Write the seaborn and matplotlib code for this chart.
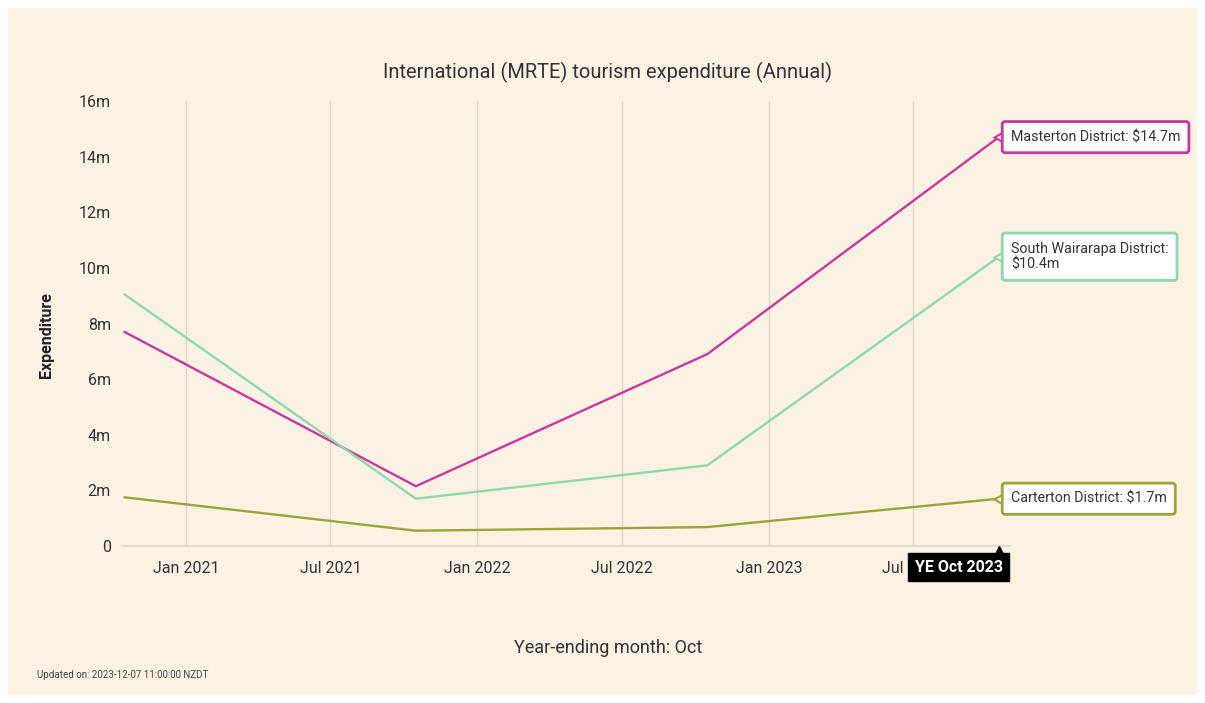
import numpy as np
import pandas as pd
import seaborn as sns
import matplotlib.pyplot as plt
import matplotlib.dates as mdates
import matplotlib.transforms as mtransforms
from matplotlib.ticker import FuncFormatter

# data (year ending October, $ millions)
periods = ["2020-10-16", "2021-10-16", "2022-10-16", "2023-10-16"]
masterton = [7.7, 2.15, 6.9, 14.7]
south_wairarapa = [9.05, 1.7, 2.9, 10.4]
carterton = [1.75, 0.55, 0.68, 1.7]
districts = ["Masterton District", "South Wairarapa District", "Carterton District"]
colours = ["#c8379e", "#8ed9a9", "#9aa63a"]
end_labels = ["Masterton District: $14.7m", "South Wairarapa District:\n$10.4m",
              "Carterton District: $1.7m"]
y_ticks = [0, 2, 4, 6, 8, 10, 12, 14, 16]
x_ticks = ["2021-01-01", "2021-07-01", "2022-01-01", "2022-07-01", "2023-01-01", "2023-07-01"]

df = pd.DataFrame({
    "period": pd.to_datetime(periods * 3),
    "value": masterton + south_wairarapa + carterton,
    "district": np.repeat(districts, len(periods)),
})

bg = "#fbf2e4"
sns.set_theme(style="white")
plt.rcParams["font.family"] = ["Roboto", "DejaVu Sans"]

fig = plt.figure(figsize=(12.05, 7.03), dpi=100)
fig.patch.set_facecolor("white")
# beige panel inside the white frame
fig.add_artist(plt.Rectangle((8 / 1205, 8 / 703), 1189 / 1205, 687 / 703,
                             transform=fig.transFigure, facecolor=bg, edgecolor="none", zorder=-10))

ax = fig.add_axes([122 / 1205, 1 - 546 / 703, 888 / 1205, 445 / 703])
ax.set_facecolor(bg)

pal = dict(zip(districts, colours))
sns.lineplot(data=df, x="period", y="value", hue="district", palette=pal,
             linewidth=1.7, legend=False, ax=ax)

ax.set_xlim(pd.Timestamp("2020-10-13"), pd.Timestamp("2023-10-30"))
ax.set_ylim(0, 16)
ax.set_yticks(y_ticks)
ax.yaxis.set_major_formatter(FuncFormatter(lambda v, p: "0" if v == 0 else f"{v:.0f}m"))
ax.set_xticks(pd.to_datetime(x_ticks))
ax.xaxis.set_major_formatter(mdates.DateFormatter("%b %Y"))
ax.tick_params(axis="both", length=0, labelsize=11.5, labelcolor="#333333")
ax.tick_params(axis="x", pad=11)
ax.tick_params(axis="y", pad=8)
ax.grid(axis="x", color="#dcd8cf", linewidth=1)
ax.grid(axis="y", visible=False)
for s in ["top", "right", "left"]:
    ax.spines[s].set_visible(False)
ax.spines["bottom"].set_color("#dcd8cf")
ax.set_xlabel("")
ax.set_ylabel("")

fig.text(608 / 1205, 1 - 648 / 703, "Year-ending month: Oct",
         ha="center", va="center", fontsize=13, color="#333333")
fig.text(46 / 1205, 1 - 335 / 703, "Expenditure", rotation=90,
         ha="center", va="center", fontsize=11.5, fontweight="bold", color="#222222")
fig.text(608 / 1205, 1 - 72 / 703, "International (MRTE) tourism expenditure (Annual)",
         ha="center", va="center", fontsize=14.5, color="#333333")
fig.text(37 / 1205, 1 - 675 / 703, "Updated on: 2023-12-07 11:00:00 NZDT",
         ha="left", va="center", fontsize=7, color="#444444")

# end-of-line labels
last = pd.Timestamp(periods[-1])
last_vals = [masterton[-1], south_wairarapa[-1], carterton[-1]]
for val, lab, col in zip(last_vals, end_labels, colours):
    ax.annotate(lab, xy=(last, val), xytext=(12, 0), textcoords="offset pixels",
                ha="left", va="center", fontsize=10.3, color="#333333", annotation_clip=False,
                bbox=dict(boxstyle="round,pad=0.6,rounding_size=0.2", facecolor="white",
                          edgecolor=col, linewidth=2))
    ax.plot([last], [val], marker=(3, 0, 90), markersize=7, color="white",
            markeredgecolor=col, markeredgewidth=1.5, clip_on=False, zorder=5)

# hover tooltip on the x axis
ax.annotate("YE Oct 2023", xy=(last, 0), xytext=(-40, -21), textcoords="offset pixels",
            ha="center", va="center", fontsize=11.5, fontweight="bold", color="white",
            annotation_clip=False, zorder=6,
            bbox=dict(boxstyle="square,pad=0.4", facecolor="black", edgecolor="black"))
shift = mtransforms.offset_copy(ax.transData, fig=fig, x=0, y=-4, units="dots")
ax.plot([last], [0], marker="^", markersize=6, color="black", clip_on=False, zorder=6,
        transform=shift)

fig.savefig("out.png", dpi=100, facecolor=fig.get_facecolor())
